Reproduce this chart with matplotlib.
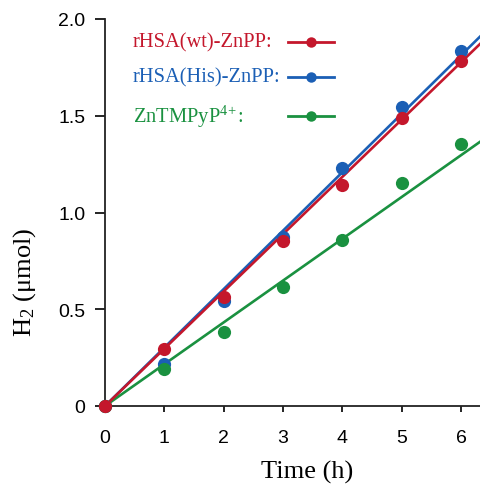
import numpy as np
import matplotlib
matplotlib.use("Agg")
import matplotlib.pyplot as plt

# -----------------------------
# Data
# -----------------------------
time_h = [0, 1, 2, 3, 4, 5, 6]

h2_wt = [0, 0.295, 0.565, 0.855, 1.14, 1.49, 1.785]
h2_his = [0, 0.215, 0.545, 0.873, 1.23, 1.545, 1.836]
h2_tmpyp = [0, 0.19, 0.38, 0.615, 0.86, 1.15, 1.354]

# slopes of the fitted lines (umol / h)
slope_wt = 0.296
slope_his = 0.302
slope_tmpyp = 0.216

labels = ["rHSA(wt)-ZnPP:", "rHSA(His)-ZnPP:", r"ZnTMPyP$^{4\!+}$:"]
colors = ["#C4172C", "#1B5FB5", "#1A9140"]

x_ticks = [0, 1, 2, 3, 4, 5, 6]
y_ticks = [0, 0.5, 1.0, 1.5, 2.0]
y_tick_labels = ["0", "0.5", "1.0", "1.5", "2.0"]

# -----------------------------
# Plot
# -----------------------------
plt.rcParams["mathtext.fontset"] = "custom"
plt.rcParams["mathtext.rm"] = "Liberation Serif"
plt.rcParams["mathtext.it"] = "Liberation Serif:italic"

fig = plt.figure(figsize=(4.8, 4.85), dpi=100)
ax = fig.add_axes([105 / 480, 1 - 407 / 485, 375 / 480, 387 / 485])

series = [(h2_wt, slope_wt), (h2_his, slope_his), (h2_tmpyp, slope_tmpyp)]
# blue first, then green, red on top (as in the figure)
for i in [1, 2, 0]:
    vals, slope = series[i]
    ax.axline((0, 0), slope=slope, color=colors[i], lw=1.9, zorder=2)
    ax.plot(time_h, vals, "o", color=colors[i], ms=9.5, mec="none",
            clip_on=False, zorder=3)

ax.set_xlim(0, 375 / 59.33)
ax.set_ylim(0, 2.0)

ax.set_xticks(x_ticks)
ax.set_yticks(y_ticks)
ax.set_yticklabels(y_tick_labels)
for lab in ax.get_xticklabels() + ax.get_yticklabels():
    lab.set_family("Liberation Sans")
    lab.set_fontsize(14)
ax.tick_params(axis="x", direction="out", length=4.5, width=1.2, pad=12)
ax.tick_params(axis="y", direction="out", length=7.5, width=1.2, pad=6.5)

for side in ["top", "right"]:
    ax.spines[side].set_visible(False)
for side in ["left", "bottom"]:
    ax.spines[side].set_linewidth(1.3)
    ax.spines[side].set_color("#222222")

ax.set_xlabel("Time (h)", family="Liberation Serif", fontsize=19)
ax.set_ylabel(r"H$_2$ ($\mathrm{\mu}$mol)", family="Liberation Serif", fontsize=19)
ax.xaxis.set_label_coords(0.539, -0.139)
ax.yaxis.set_label_coords(-0.179, 0.323)

# Legend (hand-placed, text left, line+marker right)
leg_y = [0.9406, 0.850, 0.749]
for lab, col, yy in zip(labels, colors, leg_y):
    ax.text(0.0747, yy, lab, transform=ax.transAxes, color=col,
            family="Liberation Serif", fontsize=14.8, va="center", ha="left")
    ax.plot([0.487, 0.610], [yy, yy], color=col, lw=2.0,
            transform=ax.transAxes, clip_on=False)
    ax.plot([0.549], [yy], "o", color=col, ms=7.5, mec="none",
            transform=ax.transAxes, clip_on=False)

fig.savefig("out.png", dpi=100)
